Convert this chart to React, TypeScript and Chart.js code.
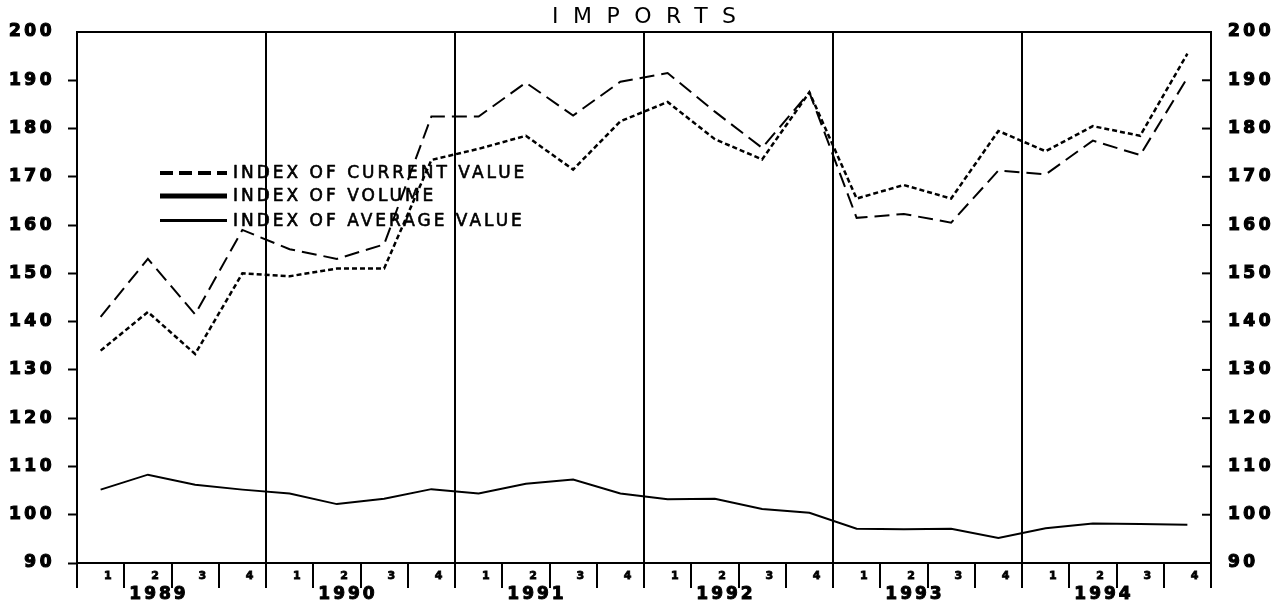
import React, { useEffect, useRef } from 'react';
import { Chart, registerables } from 'chart.js';

Chart.register(...registerables);

const quarterLabels = [
  '1', '2', '3', '4',
  '1', '2', '3', '4',
  '1', '2', '3', '4',
  '1', '2', '3', '4',
  '1', '2', '3', '4',
  '1', '2', '3', '4',
];
const yearLabels = ['1989', '1990', '1991', '1992', '1993', '1994'];

const currentValue = [
  141, 153, 141.5, 159,
  155, 153, 156, 182.5,
  182.5, 189.5, 182.7, 189.7,
  191.5, 183.5, 176, 187.5,
  161.5, 162.3, 160.5, 171.3,
  170.5, 177.5, 174.5, 190.5,
];
const volume = [
  134, 142, 133.3, 150,
  149.4, 151, 151, 173.5,
  175.8, 178.5, 171.5, 181.5,
  185.5, 177.8, 173.6, 187.5,
  165.5, 168.3, 165.5, 179.5,
  175.3, 180.5, 178.5, 195.5,
];
const averageValue = [
  105.2, 108.3, 106.2, 105.2,
  104.4, 102.2, 103.3, 105.3,
  104.4, 106.4, 107.3, 104.4,
  103.2, 103.3, 101.2, 100.4,
  97.1, 97, 97.1, 95.2,
  97.2, 98.2, 98.1, 97.9,
];

const seriesNames = ['INDEX OF CURRENT VALUE', 'INDEX OF VOLUME', 'INDEX OF AVERAGE VALUE'];
const titleText = 'IMPORTS';
const yMin = 90;
const yMax = 200;
const yStep = 10;

const INK = '#000';

const decorPlugin = {
  id: 'decor',
  beforeDraw(chart: any) {
    const ctx = chart.ctx;
    ctx.save();
    ctx.fillStyle = '#fff';
    ctx.fillRect(0, 0, chart.width, chart.height);
    ctx.restore();
    ctx.letterSpacing = '3.5px';
  },
  afterDraw(chart: any) {
    const ctx = chart.ctx;
    const area = chart.chartArea;
    const xs = chart.scales.x;
    const y2 = chart.scales.y2;
    ctx.save();
    ctx.strokeStyle = INK;
    ctx.fillStyle = INK;
    ctx.lineWidth = 2;

    // top frame line
    ctx.beginPath();
    ctx.moveTo(area.left - 1, area.top);
    ctx.lineTo(area.right + 1, area.top);
    ctx.stroke();

    // right axis inward ticks
    y2.ticks.forEach((t: any) => {
      if (t.value === yMin || t.value === yMax) return;
      const py = y2.getPixelForValue(t.value);
      ctx.beginPath();
      ctx.moveTo(area.right - 9, py);
      ctx.lineTo(area.right, py);
      ctx.stroke();
    });

    // year labels
    ctx.font = 'bold 17px "DejaVu Sans"';
    ctx.letterSpacing = '3px';
    ctx.textAlign = 'left';
    ctx.textBaseline = 'middle';
    ctx.lineWidth = 1;
    ctx.lineJoin = 'round';
    yearLabels.forEach((yl, i) => {
      const cx = (xs.getPixelForValue(i * 4 + 1) + xs.getPixelForValue(i * 4 + 2)) / 2 - 14;
      const w = ctx.measureText(yl).width - 3;
      ctx.fillText(yl, cx - w / 2, area.bottom + 32);
      ctx.strokeText(yl, cx - w / 2, area.bottom + 32);
    });

    // title
    ctx.font = '22px "DejaVu Sans"';
    ctx.letterSpacing = '14.5px';
    const tw = ctx.measureText(titleText).width - 14.5;
    ctx.fillText(titleText, (area.left + area.right) / 2 - tw / 2, 17);

    // legend
    ctx.font = '17px "DejaVu Sans"';
    ctx.letterSpacing = '3px';
    const lx0 = area.left + 83;
    const lx1 = area.left + 150;
    const rows = [area.top + 141, area.top + 164, area.top + 188.5];
    const styles = [
      { w: 4, dash: [13, 6] },
      { w: 5, dash: [] },
      { w: 3, dash: [] },
    ];
    seriesNames.forEach((name, i) => {
      ctx.beginPath();
      ctx.lineWidth = styles[i].w;
      ctx.setLineDash(styles[i].dash);
      ctx.moveTo(lx0, rows[i]);
      ctx.lineTo(lx1, rows[i]);
      ctx.stroke();
      ctx.setLineDash([]);
      ctx.lineWidth = 0.6;
      ctx.fillText(name, lx1 + 6, rows[i] + 1);
      ctx.strokeText(name, lx1 + 6, rows[i] + 1);
    });
    ctx.restore();
  },
};

export default function App() {
  const ref = useRef<HTMLCanvasElement | null>(null);
  useEffect(() => {
    document.body.style.margin = '0';
    const canvas = ref.current!;
    const chart = new Chart(canvas, {
      type: 'line',
      data: {
        labels: quarterLabels,
        datasets: [
          {
            label: seriesNames[0],
            data: currentValue,
            borderColor: INK,
            borderWidth: 2,
            borderDash: [15, 7],
            pointRadius: 0,
            tension: 0,
            yAxisID: 'y',
          },
          {
            label: seriesNames[1],
            data: volume,
            borderColor: INK,
            borderWidth: 2.5,
            borderDash: [5, 3],
            pointRadius: 0,
            tension: 0,
            yAxisID: 'y',
          },
          {
            label: seriesNames[2],
            data: averageValue,
            borderColor: INK,
            borderWidth: 2,
            pointRadius: 0,
            tension: 0,
            yAxisID: 'y',
          },
        ],
      },
      options: {
        responsive: false,
        animation: false,
        layout: { padding: { top: 32, left: 0, right: 0, bottom: 0 } },
        plugins: {
          legend: { display: false },
          title: { display: false },
          tooltip: { enabled: false },
        },
        scales: {
          x: {
            type: 'category',
            offset: true,
            grid: {
              offset: true,
              drawOnChartArea: true,
              color: (c: any) =>
                c.index !== undefined && c.index > 0 && c.index % 4 === 0 ? INK : 'rgba(0,0,0,0)',
              lineWidth: 2,
              tickColor: INK,
              tickWidth: 2,
              tickLength: 25,
            },
            border: { display: true, color: INK, width: 2 },
            ticks: {
              color: INK,
              font: { family: 'DejaVu Sans', size: 11, weight: 'bold' },
              textStrokeColor: INK,
              textStrokeWidth: 0.8,
              labelOffset: 9,
              padding: -18,
              maxRotation: 0,
              autoSkip: false,
            },
            afterFit: (s: any) => {
              s.height = 48;
            },
          },
          y: {
            position: 'left',
            min: yMin,
            max: yMax,
            ticks: {
              stepSize: yStep,
              color: INK,
              font: { family: 'DejaVu Sans', size: 17, weight: 'bold' },
              textStrokeColor: INK,
              textStrokeWidth: 1.2,
              padding: 13,
            },
            grid: {
              drawOnChartArea: false,
              tickColor: (c: any) => (c.tick && c.tick.value === yMax ? 'rgba(0,0,0,0)' : INK),
              tickWidth: 2,
              tickLength: 9,
            },
            border: { display: true, color: INK, width: 2 },
            afterFit: (s: any) => {
              s.width = 77;
            },
          },
          y2: {
            position: 'right',
            min: yMin,
            max: yMax,
            ticks: {
              stepSize: yStep,
              color: INK,
              font: { family: 'DejaVu Sans', size: 17, weight: 'bold' },
              textStrokeColor: INK,
              textStrokeWidth: 1.2,
              padding: 17,
            },
            grid: { display: false, drawTicks: false },
            border: { display: true, color: INK, width: 2 },
            afterFit: (s: any) => {
              s.width = 73;
            },
          },
        },
      },
      plugins: [decorPlugin],
    } as any);
    return () => chart.destroy();
  }, []);
  return <canvas ref={ref} width={1284} height={611} style={{ display: 'block' }} />;
}
